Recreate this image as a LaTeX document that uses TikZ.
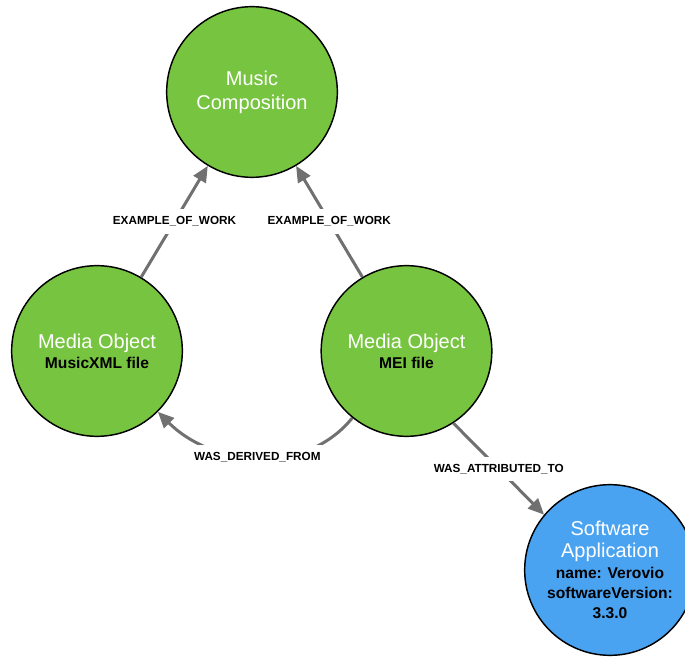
\documentclass[tikz,border=0pt]{standalone}
\usepackage{fontspec}
\setmainfont{Liberation Sans}
\usetikzlibrary{arrows.meta}
\definecolor{workgreen}{RGB}{119,196,65}
\definecolor{appblue}{RGB}{74,163,241}
\definecolor{relgray}{RGB}{112,112,112}
\newcommand{\ntitle}[1]{{\color{white}\mdseries\fontsize{15}{15}\selectfont #1}}
\begin{document}
\begin{tikzpicture}[x=0.75pt, y=0.75pt,
        entity/.style={circle, draw=black, line width=1.1pt, minimum size=128pt, inner sep=0pt,
            align=center, font=\fontsize{11.7}{15}\selectfont\bfseries},
        rel/.style={draw=relgray, line width=2.25pt, -{Triangle[length=12pt, width=10.5pt]}},
        lbl/.style={fill=white, inner xsep=1pt, inner ysep=5.5pt, font=\fontsize{8.8}{10}\selectfont\bfseries}]
    \path[use as bounding box, clip] (0, 0) rectangle (685, 657);
    \node[entity, fill=workgreen] (comp) at (252, 565) {\ntitle{Music}\\[3pt]\ntitle{Composition}};
    \node[entity, fill=workgreen] (mxml) at (97, 306) {\ntitle{Media Object}\\MusicXML file};
    \node[entity, fill=workgreen] (mei) at (406.5, 306) {\ntitle{Media Object}\\MEI file};
    \node[entity, fill=appblue] (app) at (610, 87) {\ntitle{Software}\\[1.5pt]\ntitle{Application}\\[1pt]name: Verovio\\softwareVersion:\\3.3.0};
    \draw[rel] (mxml) -- node[lbl] {EXAMPLE\_OF\_WORK} (comp);
    \draw[rel] (mei) -- node[lbl] {EXAMPLE\_OF\_WORK} (comp);
    \draw[rel] (mei) to[out=231, in=315] node[lbl] {WAS\_DERIVED\_FROM} (mxml);
    \draw[rel] (mei.-57) -- node[lbl] {WAS\_ATTRIBUTED\_TO} (app.140);
\end{tikzpicture}
\end{document}
